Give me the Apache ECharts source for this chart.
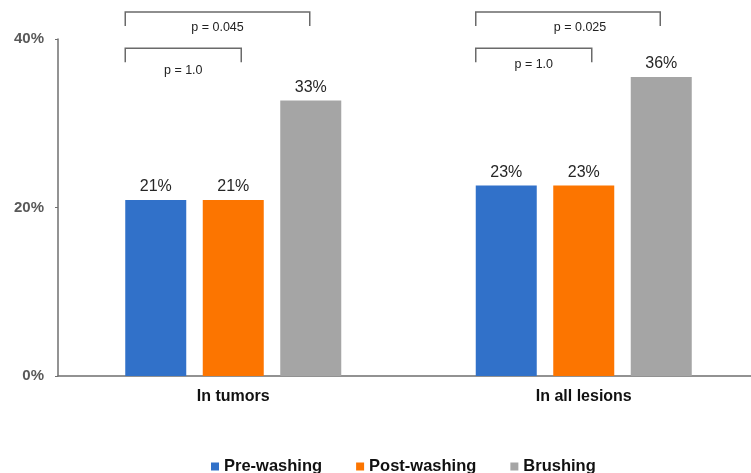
<!DOCTYPE html>
<html><head><meta charset="utf-8">
<script src="https://cdn.jsdelivr.net/npm/echarts@6/dist/echarts.min.js"></script>
<style>html,body{margin:0;padding:0;background:#fff}#c{width:751px;height:473px}</style>
</head><body><div id="c"></div>
<script>
const categories = ['In tumors', 'In all lesions'];
const preWashing = [20.9, 22.6];
const postWashing = [20.9, 22.6];
const brushing = [32.7, 35.5];
const seriesNames = ['Pre-washing', 'Post-washing', 'Brushing'];
const yTicks = [0, 20, 40];
// brackets: category index, to series, level (%), label
const bracketCats = [0, 0, 1, 1];
const bracketLevels = [43.2, 38.9, 43.2, 38.9];
const bracketLabels = ['p = 0.045', 'p = 1.0', 'p = 0.025', 'p = 1.0'];
const bracketTo = [2, 1, 2, 1];

const colors = ['#3171C9', '#FC7500', '#A5A5A5'];
const BW = 61, GAP = 16.5;
const chart = echarts.init(document.getElementById('c'), null, {renderer: 'canvas'});
const lbl = {show: true, position: 'top', distance: 5, fontSize: 16, color: '#262626',
  fontFamily: 'Liberation Sans, Arial', formatter: p => Math.round(p.value) + '%'};
chart.setOption({
  animation: false,
  grid: {left: 58, width: 701, top: 39, bottom: 97, containLabel: false, outerBoundsMode: 'none'},
  xAxis: {type: 'category', data: categories,
    axisLine: {lineStyle: {color: '#6f6f6f', width: 1.5}}, axisTick: {show: false},
    axisLabel: {fontSize: 16, fontWeight: 'bold', color: '#111', margin: 13, fontFamily: 'Liberation Sans, Arial'}},
  yAxis: {type: 'value', min: 0, max: 40, interval: 20,
    axisLine: {show: true, lineStyle: {color: '#6f6f6f', width: 1.5}},
    axisTick: {show: true, length: 3, lineStyle: {color: '#6f6f6f'}},
    splitLine: {show: false},
    axisLabel: {fontSize: 15, fontWeight: 'bold', color: '#595959', margin: 14,
      fontFamily: 'Liberation Sans, Arial', formatter: v => yTicks.includes(v) ? v + '%' : ''}},
  legend: {top: 453, left: 206, itemWidth: 8, itemHeight: 8, itemGap: 34, icon: 'rect',
    textStyle: {fontSize: 16.5, fontWeight: 'bold', color: '#111', fontFamily: 'Liberation Sans, Arial'},
    data: seriesNames},
  series: [
    {name: seriesNames[0], type: 'bar', data: preWashing, barWidth: BW, barGap: (GAP / BW * 100) + '%', itemStyle: {color: colors[0]}, label: lbl},
    {name: seriesNames[1], type: 'bar', data: postWashing, barWidth: BW, barGap: (GAP / BW * 100) + '%', itemStyle: {color: colors[1]}, label: lbl},
    {name: seriesNames[2], type: 'bar', data: brushing, barWidth: BW, barGap: (GAP / BW * 100) + '%', itemStyle: {color: colors[2]}, label: lbl}
  ]
});

// brackets from axis coordinates
const g = [];
const lineStyle = {stroke: '#6a6a6a', lineWidth: 1.5, fill: null};
bracketCats.forEach((ci, k) => {
  const cx = chart.convertToPixel({xAxisIndex: 0}, categories[ci]);
  const step = BW + GAP;
  const x1 = cx - step - BW / 2;
  const toCenter = cx + (bracketTo[k] - 1) * step;
  const x2 = bracketTo[k] === 2 ? toCenter - 1 : toCenter + 8;
  const yTop = chart.convertToPixel({yAxisIndex: 0}, bracketLevels[k]);
  const yBot = yTop + 14;
  g.push({type: 'polyline', shape: {points: [[x1, yBot], [x1, yTop], [x2, yTop], [x2, yBot]]}, style: lineStyle, silent: true});
  const isOuter = bracketTo[k] === 2;
  let tx = (x1 + x2) / 2, ty = yTop + 16;
  if (isOuter && ci === 1) tx += 12;
  if (!isOuter && ci === 0) ty = yTop + 22;
  g.push({type: 'text', x: tx, y: ty, style: {text: bracketLabels[k], fontSize: 12.5, fill: '#222',
    fontFamily: 'Liberation Sans, Arial', align: 'center', verticalAlign: 'middle'}, silent: true});
});
chart.setOption({graphic: g});
</script></body></html>
